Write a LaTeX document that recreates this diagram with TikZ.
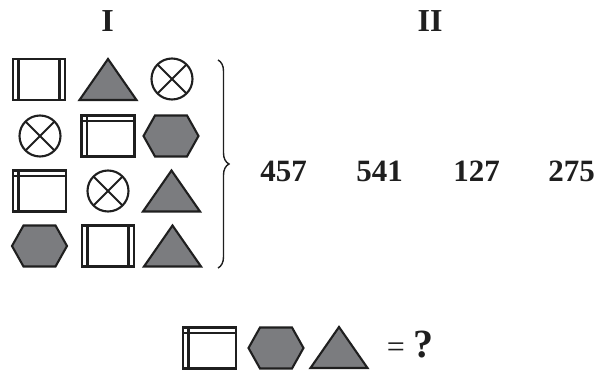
\documentclass[tikz,border=0pt]{standalone}
\usepackage{fontspec}
\setmainfont{Liberation Serif}
\usetikzlibrary{decorations.pathreplacing}
\definecolor{shfill}{HTML}{7B7C7F}
\definecolor{ink}{HTML}{1F1F1F}
\tikzset{
  shp/.style={draw=ink, line width=2.1pt, line join=miter},
  lbl/.style={inner sep=0pt, anchor=base, text=ink, font=\fontsize{31}{36}\selectfont\bfseries},
  pics/sqv/.style={code={
    \draw[shp] (-26,-20.5) rectangle (26,20.5);
    \draw[shp] (-20.5,-20.5) -- (-20.5,20.5) (20.5,-20.5) -- (20.5,20.5);
  }},
  pics/sqt/.style={code={
    \draw[shp] (-26.5,-20.5) rectangle (26.5,20.5);
    \draw[shp] (-26.5,-15) -- (26.5,-15) (-21,-20.5) -- (-21,20.5);
  }},
  pics/tri/.style={code={
    \draw[shp, fill=shfill] (-28.5,20.5) -- (28.5,20.5) -- (0,-20.5) -- cycle;
  }},
  pics/hex/.style={code={
    \draw[shp, fill=shfill] (-27.5,0) -- (-16,-20.5) -- (16,-20.5) -- (27.5,0) -- (16,20.5) -- (-16,20.5) -- cycle;
  }},
  pics/cx/.style={code={
    \draw[shp] (0,0) circle[radius=20.5pt];
    \draw[shp] (-14.5,-14.5) -- (14.5,14.5) (-14.5,14.5) -- (14.5,-14.5);
  }},
}
\begin{document}
\begin{tikzpicture}[x=1pt,y=-1pt]
\useasboundingbox (0,0) rectangle (610,371);
% titles
\node[lbl, font=\fontsize{32}{36}\selectfont\bfseries] (t1) at (107.5,32) {I};
\node[lbl, font=\fontsize{32}{36}\selectfont\bfseries] (t2) at (430,32) {II};
% grid of shapes
\pic at (39,79.5) {sqv};
\pic at (108,79.5) {tri};
\pic at (172,79) {cx};
\pic at (40,136) {cx};
\pic at (108,136) {sqt};
\pic at (171,136) {hex};
\pic at (39.5,191) {sqt};
\pic at (108,191) {cx};
\pic at (171.5,191) {tri};
\pic at (39.5,246) {hex};
\pic at (108,246) {sqv};
\pic at (172.5,246) {tri};
% brace
\coordinate (btop) at (218,60);
\coordinate (bbot) at (218,268);
\draw[ink, line width=1.4pt, decorate, decoration={brace, amplitude=11pt}] (btop) -- (bbot);
% numbers
\node[lbl] (n1) at (283.5,182) {457};
\node[lbl] (n2) at (379.5,182) {541};
\node[lbl] (n3) at (476.5,182) {127};
\node[lbl] (n4) at (571.5,182) {275};
% bottom line
\pic at (209.5,348) {sqt};
\pic at (276,348) {hex};
\pic at (339,347.5) {tri};
\node[inner sep=0pt, anchor=base, text=ink, font=\fontsize{32}{36}\selectfont] (eq) at (396,357) {=};
\node[inner sep=0pt, anchor=base, text=ink, font=\fontsize{40}{42}\selectfont\bfseries] (q) at (423.5,357) {?};
\end{tikzpicture}
\end{document}
